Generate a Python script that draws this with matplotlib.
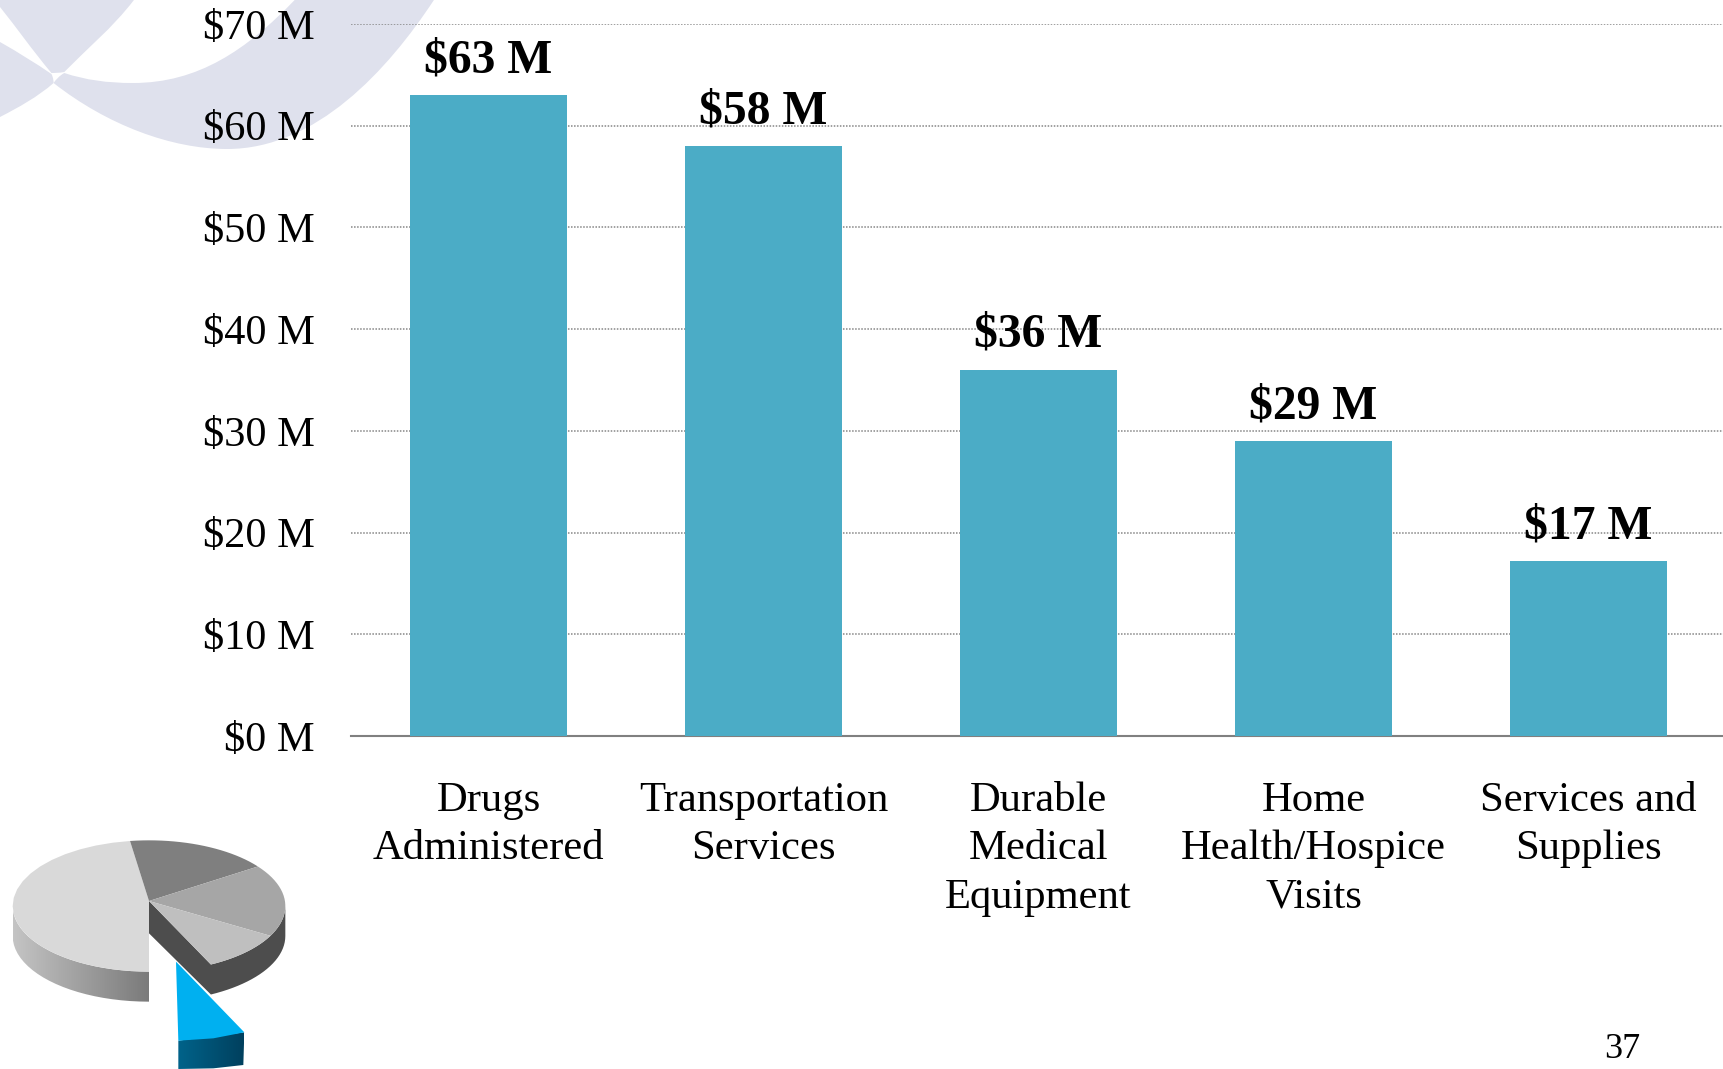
import numpy as np
import matplotlib
matplotlib.use("Agg")
import matplotlib.pyplot as plt
from matplotlib.patches import PathPatch, Polygon
from matplotlib.path import Path

plt.rcParams['font.family'] = ['Liberation Serif', 'DejaVu Serif']

# chart data ($ millions)
categories = ["Drugs\nAdministered", "Transportation\nServices", "Durable\nMedical\nEquipment",
              "Home\nHealth/Hospice\nVisits", "Services and\nSupplies"]
values = [63, 58, 36, 29, 17.2]
value_labels = ["$63 M", "$58 M", "$36 M", "$29 M", "$17 M"]
y_ticks = [0, 10, 20, 30, 40, 50, 60, 70]
y_tick_labels = ["$0 M", "$10 M", "$20 M", "$30 M", "$40 M", "$50 M", "$60 M", "$70 M"]

W, H = 1723, 1069
fig = plt.figure(figsize=(W / 100, H / 100), dpi=100)

# background layer in image pixels, for the logo swoosh and the pie icon
bg = fig.add_axes([0, 0, 1, 1], zorder=0)
bg.set_xlim(0, W)
bg.set_ylim(H, 0)
bg.axis("off")

swoosh = "#DFE1ED"


def curve(points, color):
    # first point, then triples of cubic bezier points; x was read at 2.8x, not 3x
    points = [(x * 3 / 2.8, y) for x, y in points]
    codes = [Path.MOVETO] + [Path.CURVE4] * (len(points) - 1) + [Path.CLOSEPOLY]
    bg.add_patch(PathPatch(Path(points + [points[0]], codes), fc=color, ec="none", zorder=1))


# upper left piece
curve([(0, 7), (0, 7), (0, 0), (0, 0), (40, 0), (85, 0), (125, 0),
       (105, 28), (80, 50), (60, 72), (55, 73), (50, 73), (48, 73),
       (30, 50), (15, 27), (0, 7)], swoosh)
# lower left piece
curve([(0, 42), (18, 53), (33, 63), (48, 74), (50, 78), (50, 82), (50, 83),
       (35, 97), (18, 107), (0, 117)], swoosh)
# main band
curve([(50, 83), (100, 125), (160, 149), (212, 149), (295, 149), (362, 70), (405, 0),
       (360, 0), (320, 0), (275, 0), (230, 50), (185, 83), (124, 83),
       (100, 83), (80, 80), (60, 73), (55, 76), (52, 80), (50, 83)], swoosh)


def z(x, y):
    return (x / 3, 820 + y / 3)


def poly(points, color, zorder=2):
    p = Polygon([z(*q) for q in points], closed=True, fc=color, ec="none", zorder=zorder)
    bg.add_patch(p)
    return p


def gradient(points, left, right, zorder=2):
    p = poly(points, "none", zorder)
    xs = [q[0] / 3 for q in points]
    ys = [z(*q)[1] for q in points]
    c0 = np.array(matplotlib.colors.to_rgb(left))
    c1 = np.array(matplotlib.colors.to_rgb(right))
    t = np.linspace(0, 1, 128)[None, :, None]
    im = bg.imshow(c0 + (c1 - c0) * t, extent=[min(xs), max(xs), max(ys), min(ys)],
                   aspect="auto", zorder=zorder)
    im.set_clip_path(p)


def arc(a0, a1, drop=0, n=24):
    # points along the rim of the pie top, in crop coordinates
    cx, cy, rx, ry = 447, 258, 409, 197
    out = []
    for a in np.linspace(a0, a1, n):
        r = np.radians(a)
        out.append((cx + rx * np.cos(r), cy - ry * np.sin(r) + drop))
    return out


depth = 90
gradient(arc(180, 270) + arc(270, 180, depth), "#C4C4C4", "#7A7A7A")
poly([(447, 243), (447, 340)] + arc(-63, 0, depth) + arc(0, -63), "#4D4D4D")
poly([(447, 243)] + arc(98, 270) + [(447, 455)], "#D9D9D9", 3)
poly([(447, 243)] + arc(98, 37), "#7F7F7F", 3)
poly([(447, 243)] + arc(37, -27), "#A6A6A6", 3)
poly([(447, 243)] + arc(-27, -63), "#BFBFBF", 3)
gradient([(535, 662), (733, 637), (730, 735), (640, 745), (535, 747)], "#00638A", "#00405E", 3)
poly([(528, 425), (733, 637), (640, 655), (535, 662)], "#00B0F0", 4)

# bar chart on top, its y axis running from $0 M at y=736 to $70 M at y=24
ax = fig.add_axes([351 / W, (H - 736) / H, 1375 / W, 712 / H], zorder=1)
ax.patch.set_alpha(0)
pos = np.arange(len(categories))
bars = ax.bar(pos, values, width=0.571, color="#4BACC6", zorder=3)
ax.bar_label(bars, labels=value_labels, fontsize=34.3, fontweight="bold", padding=9.3, zorder=4)

ax.set_xlim(-0.5, 4.5)
ax.set_ylim(0, 70)
ax.set_yticks(y_ticks, y_tick_labels, fontsize=30.5)
ax.set_xticks(pos, categories, fontsize=30.7, linespacing=1.325)
ax.tick_params(axis="y", length=0, pad=26)
ax.tick_params(axis="x", length=0, pad=33)
ax.grid(axis="y", color="#868686", linestyle=(0, (1, 1)), linewidth=1.1, zorder=1)
ax.set_axisbelow(True)
for s in ["top", "left", "right"]:
    ax.spines[s].set_visible(False)
ax.spines["bottom"].set_color("#808080")
ax.spines["bottom"].set_linewidth(1.5)

fig.text(1622 / W, 1 - 1050 / H, "37", fontsize=26, ha="center", va="center")

fig.savefig("out.png", dpi=100)
